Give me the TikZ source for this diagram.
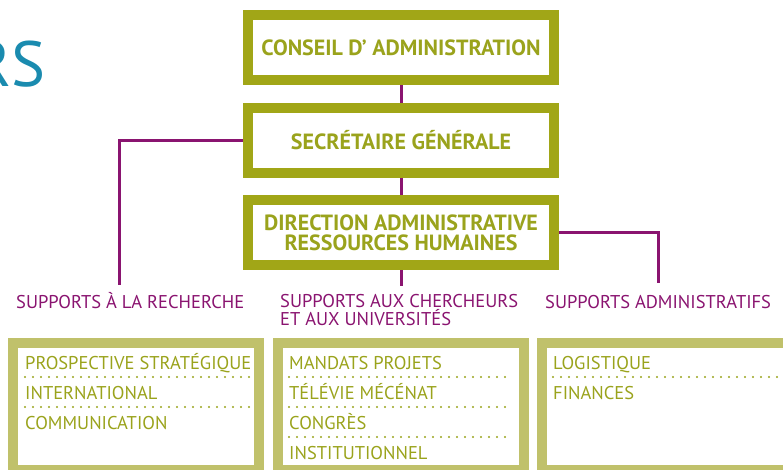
\documentclass[tikz,border=0pt]{standalone}
\usepackage{fontspec}
\setmainfont{PT Sans}
\usetikzlibrary{positioning}

\definecolor{orgOlive}{HTML}{A1A617}
\definecolor{orgOliveTxt}{HTML}{9AA31C}
\definecolor{orgOliveLight}{HTML}{C0C16B}
\definecolor{orgViolet}{HTML}{8A1470}
\definecolor{orgTeal}{HTML}{1A8BAF}

\tikzset{
  chef/.style={draw=orgOlive, line width=10pt, fill=white, minimum width=306pt,
    minimum height=65pt, inner sep=0pt, align=center, text=orgOliveTxt,
    font=\bfseries\fontsize{22}{20}\selectfont},
  pole/.style={draw=orgOliveLight, line width=10pt, minimum width=246pt,
    minimum height=127pt, inner sep=0pt},
  lien/.style={draw=orgViolet, line width=3pt},
  titrepole/.style={text=orgViolet, inner sep=0pt, align=left,
    font=\fontsize{18.5}{17.5}\selectfont},
  item/.style={text=orgOliveTxt, inner sep=0pt, anchor=base west,
    font=\fontsize{18.5}{18}\selectfont},
  pointilles/.style={draw=orgOliveTxt, line width=2.2pt, line cap=round,
    dash pattern=on 0pt off 8pt},
}

\begin{document}
\begin{tikzpicture}[x=1pt,y=-1pt]
  \useasboundingbox (0,0) rectangle (783,470);

  % titre coupe
  \node[anchor=base east, text=orgTeal, inner sep=0pt,
    font=\fontsize{64}{64}\selectfont] (titre) at (46,87) {RS};

  % direction
  \node[chef] (conseil) at (401,47.5) {CONSEIL D’ ADMINISTRATION};
  \node[chef, below=18pt of conseil] (secretaire) {SECRÉTAIRE GÉNÉRALE};
  \node[chef, below=17pt of secretaire] (direction) {DIRECTION ADMINISTRATIVE\\RESSOURCES HUMAINES};

  % poles
  \node[titrepole, anchor=base west] (recherche) at (16,308) {SUPPORTS À LA RECHERCHE};
  \node[titrepole, anchor=base west] (chercheurs) at (280,325) {SUPPORTS AUX CHERCHEURS\\ET AUX UNIVERSITÉS};
  \node[titrepole, anchor=base west] (admin) at (545,308) {SUPPORTS ADMINISTRATIFS};

  \coordinate (recherche-haut) at (119,285);
  \coordinate (chercheurs-haut) at (401,286);
  \coordinate (admin-haut) at (658,283);

  \draw[lien] (conseil) -- (secretaire);
  \draw[lien] (secretaire) -- (direction);
  \draw[lien] (secretaire.west) -| (recherche-haut);
  \draw[lien] (direction.south) -- (chercheurs-haut);
  \draw[lien] (direction.east) -| (admin-haut);

  % cadres du bas
  \node[pole] (cadre-rech) at (136,406.5) {};
  \node[pole, right=9pt of cadre-rech] (cadre-cherch) {};
  \node[pole, right=8pt of cadre-cherch] (cadre-admin) {};

  \foreach \t [count=\i] in {PROSPECTIVE STRATÉGIQUE, INTERNATIONAL, COMMUNICATION}
    \node[item] (rech-\i) at (25,{369+30*(\i-1)}) {\t};
  \foreach \t [count=\i] in {MANDATS PROJETS, TÉLÉVIE MÉCÉNAT, CONGRÈS, INSTITUTIONNEL}
    \node[item] (cherch-\i) at (289,{369+30*(\i-1)}) {\t};
  \foreach \t [count=\i] in {LOGISTIQUE, FINANCES}
    \node[item] (admin-\i) at (553,{369+30*(\i-1)}) {\t};

  % separations
  \foreach \y in {377,407}
    \draw[pointilles] (25,\y) -- (250,\y);
  \foreach \y in {377,407,437}
    \draw[pointilles] (289,\y) -- (510,\y);
  \draw[pointilles] (553,377) -- (777,377);
\end{tikzpicture}
\end{document}
